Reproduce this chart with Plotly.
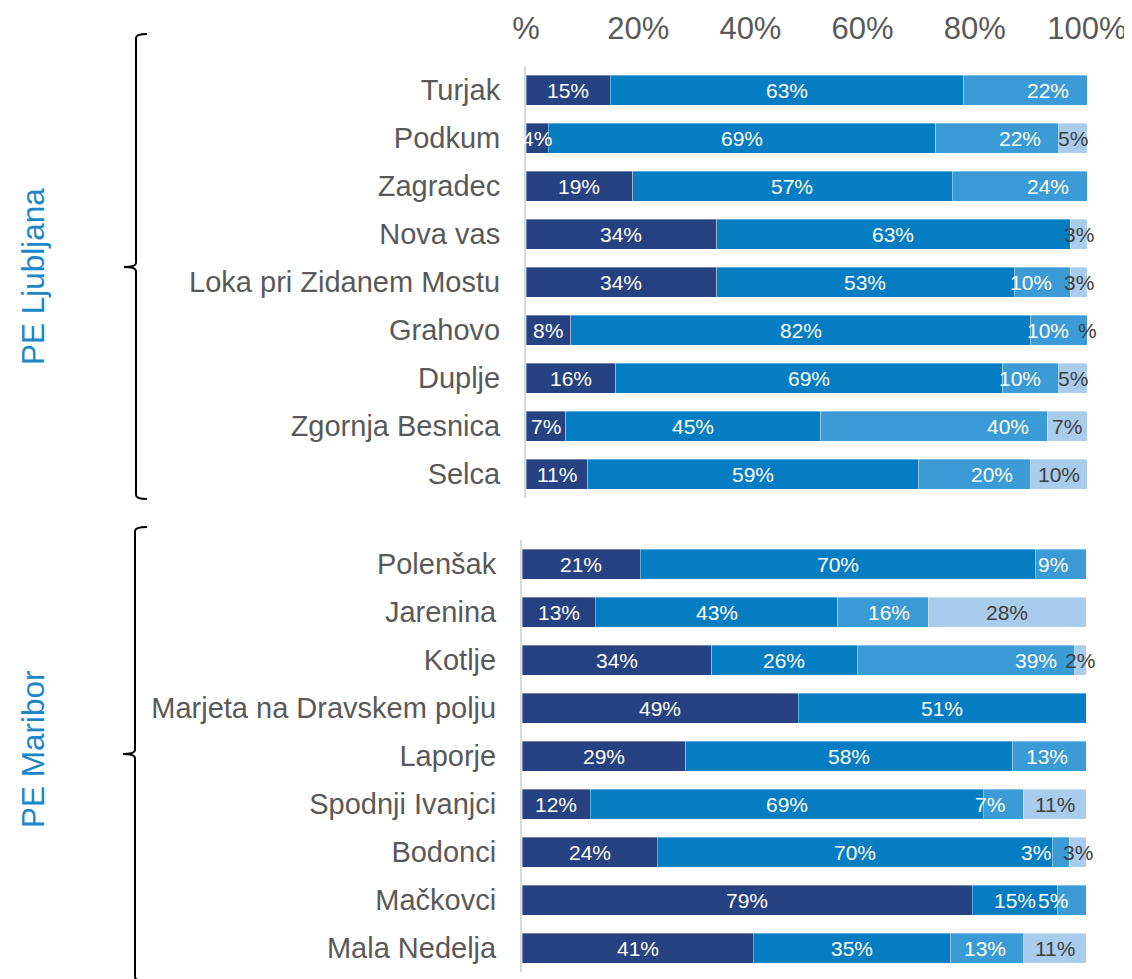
import plotly.graph_objects as go

# page is rendered with an 8px body margin; figure is sized to fit the window
OFF = 8
W, H = 1132 - OFF, 979 - OFF

# ---------------- data ----------------
lj_places = ["Turjak", "Podkum", "Zagradec", "Nova vas", "Loka pri Zidanem Mostu",
             "Grahovo", "Duplje", "Zgornja Besnica", "Selca"]
lj_s1 = [15, 4, 19, 34, 34, 8, 16, 7, 11]
lj_s2 = [63, 69, 57, 63, 53, 82, 69, 45, 59]
lj_s3 = [22, 22, 24, 0, 10, 10, 10, 40, 20]
lj_s4 = [0, 5, 0, 3, 3, 0, 5, 7, 10]

mb_places = ["Polenšak", "Jarenina", "Kotlje", "Marjeta na Dravskem polju", "Laporje",
             "Spodnji Ivanjci", "Bodonci", "Mačkovci", "Mala Nedelja"]
mb_s1 = [21, 13, 34, 49, 29, 12, 24, 79, 41]
mb_s2 = [70, 43, 26, 51, 58, 69, 70, 15, 35]
mb_s3 = [9, 16, 39, 0, 13, 7, 3, 5, 13]
mb_s4 = [0, 28, 2, 0, 0, 11, 3, 0, 11]

# label shown for a zero-width segment in the original
label_override = {("Grahovo", 3): "%"}

group_names = ["PE Ljubljana", "PE Maribor"]
x_tickvals = [0, 20, 40, 60, 80, 100]
x_ticktext = ["%", "20%", "40%", "60%", "80%", "100%"]

# ---------------- style ----------------
colors = ["#274282", "#057DC2", "#3A9BD6", "#A9CCEC"]
label_colors = ["white", "white", "white", "#404040"]
FONT = "Liberation Sans, Arial, sans-serif"
GRAY = "#595959"


def px_x(x):
    return (x - OFF) / W


def px_y(y):
    return 1 - (y - OFF) / H


fig = go.Figure()

panels = [
    (lj_places, [lj_s1, lj_s2, lj_s3, lj_s4], "x", "y"),
    (mb_places, [mb_s1, mb_s2, mb_s3, mb_s4], "x2", "y2"),
]

annotations = []
for places, series, xa, ya in panels:
    for i, s in enumerate(series):
        fig.add_trace(go.Bar(
            y=places, x=s, orientation="h", xaxis=xa, yaxis=ya,
            marker=dict(color=colors[i], line=dict(color="rgba(255,255,255,0.6)", width=0.6)),
            showlegend=False, hoverinfo="skip",
        ))
    # data labels (positions derived from the normalized stacked values)
    for r, place in enumerate(places):
        vals = [s[r] for s in series]
        tot = sum(vals)
        cum = 0.0
        for i, v in enumerate(vals):
            start = cum / tot * 100
            width = v / tot * 100
            cum += v
            txt = label_override.get((place, i))
            if txt is None:
                if v <= 0:
                    continue
                txt = f"{v}%"
            if i == 2:
                ax = dict(x=start + width, xanchor="right", xshift=-16)
            else:
                ax = dict(x=start + width / 2, xanchor="center", xshift=0)
            annotations.append(dict(
                text=txt, y=place, xref=xa, yref=ya, showarrow=False,
                yanchor="middle", font=dict(family=FONT, size=21, color=label_colors[i]),
                **ax))

# group labels
for name, yc in zip(group_names, [277, 749]):
    annotations.append(dict(text=name, x=px_x(33), y=px_y(yc), xref="paper", yref="paper",
                            textangle=-90, showarrow=False, xanchor="center", yanchor="middle",
                            font=dict(family=FONT, size=31.5, color="#1B87C9")))


def brace_path(x, top, mid, bot, hook, tip, r=4):
    return (f"M {px_x(x + hook)},{px_y(top)} "
            f"Q {px_x(x)},{px_y(top)} {px_x(x)},{px_y(top + r)} "
            f"L {px_x(x)},{px_y(mid - r)} "
            f"Q {px_x(x)},{px_y(mid)} {px_x(x - tip)},{px_y(mid)} "
            f"Q {px_x(x)},{px_y(mid)} {px_x(x)},{px_y(mid + r)} "
            f"L {px_x(x)},{px_y(bot - r)} "
            f"Q {px_x(x)},{px_y(bot)} {px_x(x + hook)},{px_y(bot)}")


shapes = [
    dict(type="path", xref="paper", yref="paper", path=brace_path(136, 34, 267, 499, 11, 12),
         line=dict(color="black", width=2)),
    dict(type="path", xref="paper", yref="paper", path=brace_path(135, 527, 754, 981, 12, 12),
         line=dict(color="black", width=2)),
]

axis_common = dict(showgrid=False, zeroline=False, automargin=False)

fig.update_layout(
    width=W, height=H,
    margin=dict(l=0, r=0, t=0, b=0, pad=0),
    paper_bgcolor="white", plot_bgcolor="white",
    barmode="stack", barnorm="percent", bargap=0.375,
    font=dict(family=FONT, color=GRAY),
    xaxis=dict(domain=[px_x(526), px_x(1087)], range=[0, 100], side="top", anchor="y",
               tickvals=x_tickvals, ticktext=x_ticktext, tickfont=dict(size=31, color=GRAY),
               showline=False, ticks="", ticklabelstandoff=20, **axis_common),
    yaxis=dict(domain=[px_y(498), px_y(66)], type="category", range=[8.5, -0.5], anchor="x",
               tickfont=dict(size=29, color=GRAY), ticks="", ticklabelstandoff=18,
               showline=True, linecolor="#D9D9D9", linewidth=2, **axis_common),
    xaxis2=dict(domain=[px_x(522), px_x(1086)], range=[0, 100], anchor="y2",
                showticklabels=False, showline=False, ticks="", **axis_common),
    yaxis2=dict(domain=[px_y(972), px_y(540)], type="category", range=[8.5, -0.5], anchor="x2",
                tickfont=dict(size=29, color=GRAY), ticks="", ticklabelstandoff=18,
                showline=True, linecolor="#D9D9D9", linewidth=2, **axis_common),
    annotations=annotations,
    shapes=shapes,
)

fig.write_html("out.html")
